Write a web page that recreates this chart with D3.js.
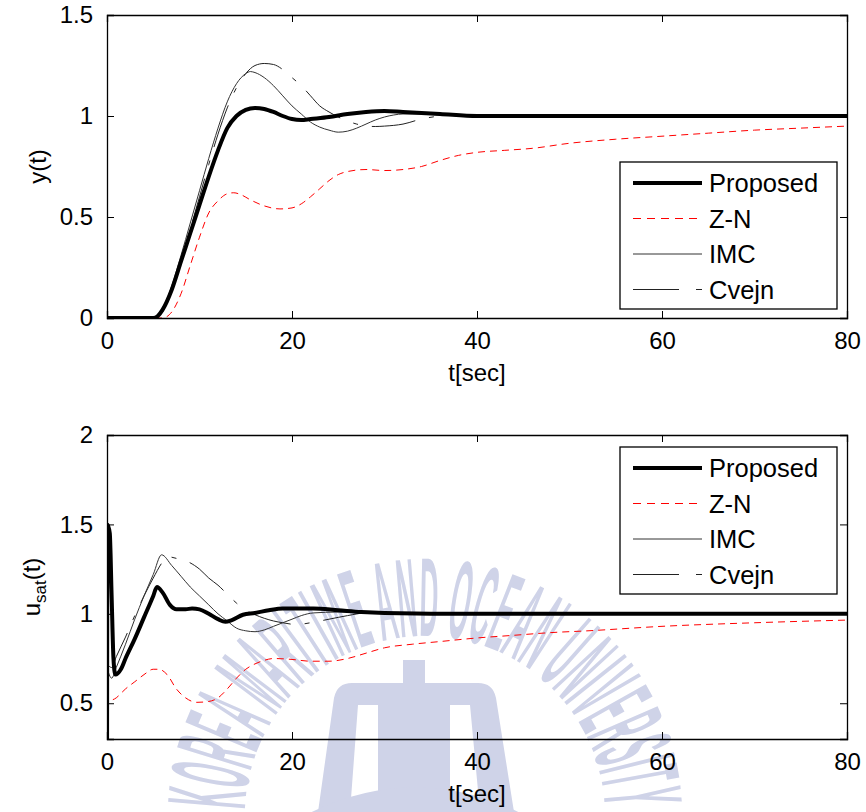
<!DOCTYPE html>
<html><head><meta charset="utf-8">
<script src="https://cdn.jsdelivr.net/npm/d3@7"></script>
<style>
html,body{margin:0;padding:0;background:#fff;}
svg{display:block;}
text{font-family:"Liberation Sans",Arial,Helvetica,sans-serif;}
</style></head>
<body><svg id="chart" width="866" height="812"></svg>
<script>
// ---------- DATA ----------
const seriesNames = ["Proposed", "Z-N", "IMC", "Cvejn"];
const xTicks = [0, 20, 40, 60, 80];
const yTicksTop = [0, 0.5, 1, 1.5];
const yTicksBottom = [0.5, 1, 1.5, 2];
const yTickLabelsTop = ["0", "0.5", "1", "1.5"];
const yTickLabelsBottom = ["0.5", "1", "1.5", "2"];

// y(t) — top panel
const tTopProposed = [0,5,5.5,6,7,8,9,10,11,12,13,14,15,16,17,18,19,20,21,22,24,26,28,30,32,34,36,40,50,60,70,80];
const yTopProposed = [0,0,0.01,0.04,0.14,0.28,0.42,0.56,0.70,0.83,0.94,1.0,1.03,1.04,1.035,1.02,1.0,0.985,0.98,0.985,0.995,1.01,1.02,1.025,1.02,1.015,1.01,1.0,1.0,1.0,1.0,1.0];
const tTopZN = [0,6,7,8,9,10,11,12,13,13.7,14.5,15.5,17,18.7,20,21,22,23,24,25,26,28,30,32,34,36,38,40,43,46,50,55,60,65,70,75,80];
const yTopZN = [0,0,0.03,0.12,0.26,0.40,0.52,0.58,0.615,0.62,0.61,0.585,0.555,0.54,0.545,0.565,0.60,0.64,0.68,0.71,0.725,0.735,0.73,0.735,0.75,0.78,0.805,0.82,0.83,0.84,0.865,0.885,0.90,0.915,0.93,0.94,0.95];
const tTopIMC = [0,5.2,6,7,8,9,10,11,12,13,14,15,15.5,16,17,18,19,20,21,22,23,24,25,26,27,28,29,30,31,32,34,36,40,80];
const yTopIMC = [0,0,0.04,0.16,0.31,0.47,0.63,0.79,0.94,1.07,1.16,1.21,1.22,1.215,1.19,1.15,1.10,1.05,1.01,0.97,0.945,0.93,0.92,0.925,0.94,0.96,0.98,0.995,1.005,1.01,1.01,1.005,1.0,1.0];
const tTopCvejn = [0,5.3,6,7,8,9,10,11,12,13,14,15,16,17,18,19,20,21,22,23,24,25,26,27,28,29,30,32,34,36,38,40,80];
const yTopCvejn = [0,0,0.03,0.14,0.29,0.44,0.60,0.76,0.91,1.04,1.14,1.21,1.25,1.26,1.255,1.23,1.19,1.15,1.10,1.05,1.02,0.995,0.975,0.96,0.95,0.948,0.95,0.96,0.985,1.0,1.005,1.0,1.0];

// u_sat(t) — bottom panel
const tBotProposed = [0,0.05,0.3,0.5,0.7,0.9,1.5,2,3,4,5,5.4,6,6.8,7.5,8.5,9.2,10,11,12,12.8,13.5,14.7,16,17.5,19,22.3,25,27.5,30,40,80];
const yBotProposed = [0,1.5,1.45,1.1,0.75,0.66,0.69,0.75,0.86,0.98,1.10,1.15,1.12,1.05,1.025,1.025,1.03,1.025,1.0,0.97,0.955,0.965,0.995,1.005,1.02,1.03,1.03,1.02,1.01,1.005,1.0,1.0];
const tBotZN = [0,0.05,1,2,3,4,5,5.6,6.5,7.5,8.5,9.7,11,12,13,14,15,16,17,18,20,22,24,26,28,30,33,36,40,44,48,52,60,70,80];
const yBotZN = [0,0.5,0.53,0.58,0.62,0.66,0.69,0.69,0.66,0.58,0.53,0.505,0.51,0.53,0.58,0.64,0.69,0.72,0.74,0.75,0.745,0.735,0.735,0.75,0.78,0.81,0.83,0.845,0.865,0.88,0.895,0.905,0.93,0.95,0.965];
const tBotIMC = [0,0.5,1,2,3,4,5,5.9,7,8,9,10,11,12,13,14,15,16,17,18,19,20,21,22.3,25,30,35,80];
const yBotIMC = [0.7,0.64,0.70,0.83,0.97,1.10,1.22,1.33,1.27,1.21,1.15,1.10,1.05,1.0,0.96,0.92,0.905,0.90,0.91,0.93,0.95,0.97,0.99,1.005,1.01,1.005,1.0,1.0];
const tBotCvejn = [0,0.5,1,2,3,4,5,6,6.5,7.5,8.8,10,11,12,13,14,15,16,17,18,19,20.5,22,24,26,28,30,35,80];
const yBotCvejn = [0.72,0.70,0.76,0.87,0.99,1.10,1.20,1.29,1.32,1.31,1.29,1.25,1.20,1.16,1.11,1.06,1.02,0.995,0.975,0.96,0.95,0.94,0.95,0.97,0.99,1.005,1.005,1.0,1.0];

// ---------- STYLES ----------
const styles = {
  "Proposed": {stroke:"#000", width:4, dash:null},
  "Z-N": {stroke:"#ff0000", width:1, dash:"7,5"},
  "IMC": {stroke:"#333", width:1, dash:null},
  "Cvejn": {stroke:"#222", width:1, dash:"44,14,5,14"}
};

const svg = d3.select("#chart");
const FONT = 24;
const LFONT = 25.5;
const WM = "#cfd3e8";

// ---------- WATERMARK ----------
const wm = svg.append("g");
const cx = 425, cy = 812, rb = 180;
wm.append("path").attr("id","wmArc")
  .attr("d", `M${cx-rb},${cy+4} A${rb},${rb} 0 0 1 ${cx+rb},${cy+4}`)
  .attr("fill","none");
wm.append("text")
  .attr("font-family","'Liberation Sans Narrow','DejaVu Sans Condensed',Arial,sans-serif")
  .attr("font-weight","bold").attr("font-size",112).attr("fill",WM)
  .append("textPath").attr("href","#wmArc").attr("startOffset",6)
  .attr("textLength",552).attr("lengthAdjust","spacingAndGlyphs")
  .text("KOREA MARITIME AND OCEAN UNIVERSITY");
// emblem
wm.append("rect").attr("x",403).attr("y",660).attr("width",22).attr("height",40).attr("fill",WM);
wm.append("path").attr("fill",WM)
  .attr("d","M318,812 L334,698 Q337,683 352,683 L478,683 Q493,683 496,698 L514,812 L480,812 L470,705 L450,705 L450,812 L378,812 L378,705 L358,705 L350,812 Z");
wm.append("path").attr("fill","none").attr("stroke",WM).attr("stroke-width",30)
  .attr("d","M300,835 Q415,770 530,835");

// ---------- PANELS ----------
const x = d3.scaleLinear().domain([0,80]).range([107,847]);

function panel(top, bottom, yDomain, yTicks, yTickLabels, data, legendTop, yLabelFn, clipId) {
  const y = d3.scaleLinear().domain(yDomain).range([bottom, top]);
  const g = svg.append("g");

  g.append("clipPath").attr("id",clipId).append("rect")
    .attr("x",x.range()[0]).attr("y",top).attr("width",x.range()[1]-x.range()[0]).attr("height",bottom-top);

  const line = d3.line().x(d=>x(d[0])).y(d=>y(d[1])).curve(d3.curveMonotoneX);
  const lg = g.append("g").attr("clip-path",`url(#${clipId})`);
  ["Cvejn","IMC","Z-N","Proposed"].forEach(name=>{
    const s = styles[name];
    const pts = data[name][0].map((t,i)=>[t, data[name][1][i]]);
    lg.append("path").datum(pts).attr("d",line)
      .attr("fill","none").attr("stroke",s.stroke).attr("stroke-width",s.width)
      .attr("stroke-dasharray",s.dash).attr("stroke-linejoin","round");
  });

  const tl = 7;
  const axB = d3.axisBottom(x).tickValues(xTicks).tickSize(-tl).tickPadding(tl+7).tickFormat(d3.format("d"));
  const axT = d3.axisTop(x).tickValues(xTicks).tickSize(-tl).tickFormat("");
  const axL = d3.axisLeft(y).tickValues(yTicks).tickSize(-tl).tickPadding(tl+7).tickFormat((d,i)=>yTickLabels[i]);
  const axR = d3.axisRight(y).tickValues(yTicks).tickSize(-tl).tickFormat("");
  const styleAxis = sel => {
    sel.select(".domain").attr("stroke","#000").attr("stroke-width",1.3);
    sel.selectAll(".tick line").attr("stroke","#000").attr("stroke-width",1);
    sel.selectAll(".tick text").attr("font-size",FONT).attr("fill","#000")
      .attr("font-family","'Liberation Sans',Arial,sans-serif");
  };
  g.append("g").attr("transform",`translate(0,${bottom})`).call(axB).call(styleAxis)
    .selectAll(".tick text").attr("dy","0.71em");
  g.append("g").attr("transform",`translate(0,${top})`).call(axT).call(styleAxis);
  g.append("g").attr("transform",`translate(${x.range()[0]},0)`).call(axL).call(styleAxis);
  g.append("g").attr("transform",`translate(${x.range()[1]},0)`).call(axR).call(styleAxis);

  g.append("text").attr("x",477).attr("y",bottom+63).attr("text-anchor","middle")
    .attr("font-size",FONT).text("t[sec]");
  yLabelFn(g, (top+bottom)/2);

  const lx0 = 620, lx1 = 837, rowH = 35.5;
  const lgd = g.append("g");
  lgd.append("rect").attr("x",lx0).attr("y",legendTop).attr("width",lx1-lx0).attr("height",147)
    .attr("fill","#fff").attr("stroke","#000").attr("stroke-width",1.3);
  seriesNames.forEach((name,i)=>{
    const yy = legendTop + 21 + i*rowH;
    const s = styles[name];
    lgd.append("line").attr("x1",633).attr("x2",702).attr("y1",yy).attr("y2",yy)
      .attr("stroke",s.stroke).attr("stroke-width",s.width)
      .attr("stroke-dasharray", name==="Z-N" ? "8,6" : (name==="Cvejn" ? "46,17,6,30" : null));
    lgd.append("text").attr("x",709).attr("y",yy).attr("dy","0.36em")
      .attr("font-size",LFONT).text(name);
  });
}

panel(15, 318, [0,1.5], yTicksTop, yTickLabelsTop, {
  "Proposed":[tTopProposed,yTopProposed], "Z-N":[tTopZN,yTopZN],
  "IMC":[tTopIMC,yTopIMC], "Cvejn":[tTopCvejn,yTopCvejn]
}, 162, (g,cyy)=>{
  g.append("text").attr("transform",`translate(46,${cyy}) rotate(-90)`)
    .attr("text-anchor","middle").attr("font-size",FONT).text("y(t)");
}, "clipTop");

panel(435, 739, [0.3,2], yTicksBottom, yTickLabelsBottom, {
  "Proposed":[tBotProposed,yBotProposed], "Z-N":[tBotZN,yBotZN],
  "IMC":[tBotIMC,yBotIMC], "Cvejn":[tBotCvejn,yBotCvejn]
}, 447, (g,cyy)=>{
  const t = g.append("text").attr("transform",`translate(40,${cyy}) rotate(-90)`)
    .attr("text-anchor","middle").attr("font-size",FONT);
  t.append("tspan").text("u");
  t.append("tspan").attr("font-size",17).attr("dy",6).text("sat");
  t.append("tspan").attr("dy",-6).text("(t)");
}, "clipBot");
</script>
</body></html>
